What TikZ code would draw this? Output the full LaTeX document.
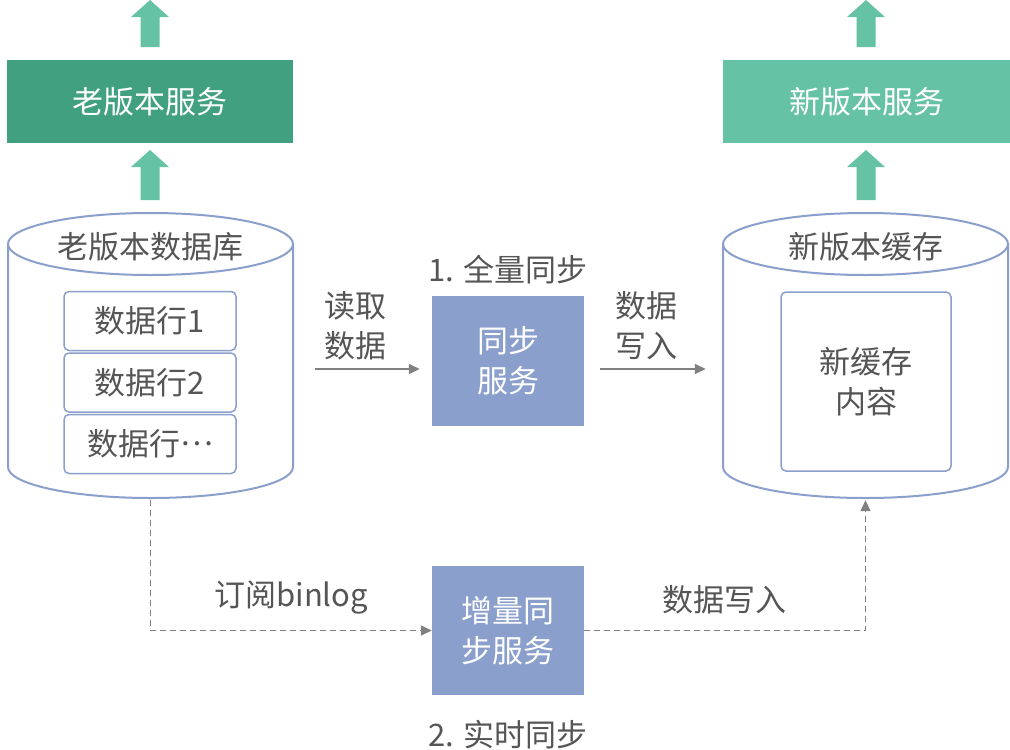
\documentclass[tikz,border=0pt]{standalone}
\usepackage{fontspec}
\setmainfont{Noto Sans CJK SC}
\usetikzlibrary{arrows.meta,positioning,fit}
\definecolor{oldgreen}{HTML}{40A07F}
\definecolor{newgreen}{HTML}{66C2A5}
\definecolor{syncblue}{HTML}{8A9FCB}
\definecolor{lineblue}{HTML}{8A9FCB}
\definecolor{txtgray}{HTML}{555555}
\definecolor{arrgray}{HTML}{808080}

\begin{document}
\begin{tikzpicture}[x=1pt, y=-1pt,
      every node/.style={font=\fontsize{31}{40}\selectfont, text=txtgray, align=center, inner sep=0pt},
      svcbox/.style={minimum width=286pt, minimum height=83pt, text=white},
      syncbox/.style={fill=syncblue, minimum width=152pt, minimum height=130pt, text=white},
      rowbox/.style={draw=lineblue, line width=1.5pt, fill=white, rounded corners=5pt,
                     minimum width=172pt, minimum height=59pt},
      dbline/.style={draw=lineblue, line width=2pt, fill=white},
      flow/.style={draw=arrgray, line width=1.5pt, -{Triangle[length=11pt,width=10pt]}},
      binflow/.style={flow, dashed, dash pattern=on 6pt off 4pt}
    ]
  \useasboundingbox (0,0) rectangle (1010,750);

  % --- Dienste oben ---
  \node (oldsvc) [svcbox, fill=oldgreen] at (150,101.5) {老版本服务};
  \node (newsvc) [svcbox, fill=newgreen, minimum width=287pt] at (866.5,101.5) {新版本服务};

  % Blockpfeile nach oben
  \foreach \cx in {150,866}
    \foreach \ty/\by in {0/47,150/200}
      \fill[newgreen] (\cx-19,\ty+17) -- (\cx,\ty) -- (\cx+19,\ty+17) -- (\cx+9.5,\ty+17)
        -- (\cx+9.5,\by) -- (\cx-9.5,\by) -- (\cx-9.5,\ty+17) -- cycle;

  % --- Zylinder: alte DB und neuer Cache ---
  \foreach \cx in {150.5,865.5} {
    \path[dbline] (\cx-142.5,244) -- (\cx-142.5,467)
      arc[start angle=180, end angle=360, x radius=142.5pt, y radius=31pt]
      -- (\cx+142.5,244) -- cycle;
    \path[dbline] (\cx,244) ellipse[x radius=142.5pt, y radius=31pt];
  }
  \node (olddb) [fit={(8,213) (293,498)}] {};
  \node (newcache) [fit={(723,213) (1008,498)}] {};
  \node (olddbtitle) at (150.5,247) {老版本数据库};
  \node (newcachetitle) at (865.5,247) {新版本缓存};

  \node (row1) [rowbox] at (150,321) {数据行1};
  \node (row2) [rowbox, below=1pt of row1] {数据行2};
  \node (row3) [rowbox, below=1pt of row2] {数据行\raisebox{0.32em}{…}};

  \node (content) [rowbox, minimum width=170pt, minimum height=179pt] at (866,381.5) {新缓存\\内容};

  % --- Sync-Dienste ---
  \node (syncsvc) [syncbox] at (508,361) {同步\\服务};
  \node (incsvc) [syncbox, minimum height=129pt] at (508,630.5) {增量同\\步服务};

  \node (fulllbl) [above=12pt of syncsvc] {1. 全量同步};
  \node (rtlbl) at (508,735) {2. 实时同步};

  % Pfeile (etwas unter der Mitte)
  \coordinate (syncin) at ([yshift=-8pt]syncsvc.west);
  \coordinate (syncout) at ([yshift=-8pt]syncsvc.east);
  \draw[flow, shorten <=22pt, shorten >=12pt] (olddb.east |- syncin) -- (syncin)
    node[pos=0.45, above=8pt] {读取\\数据};
  \draw[flow, shorten <=16pt, shorten >=17pt] (syncout) -- (newcache.west |- syncout)
    node[pos=0.45, above=8pt] {数据\\写入};

  \draw[binflow, shorten <=2pt] (olddb.south) |- (incsvc.west)
    node[pos=0.75, above=16pt] {订阅binlog};
  \draw[binflow, shorten >=2pt] (incsvc.east) -| (newcache.south)
    node[pos=0.25, above=16pt] {数据写入};
\end{tikzpicture}
\end{document}
